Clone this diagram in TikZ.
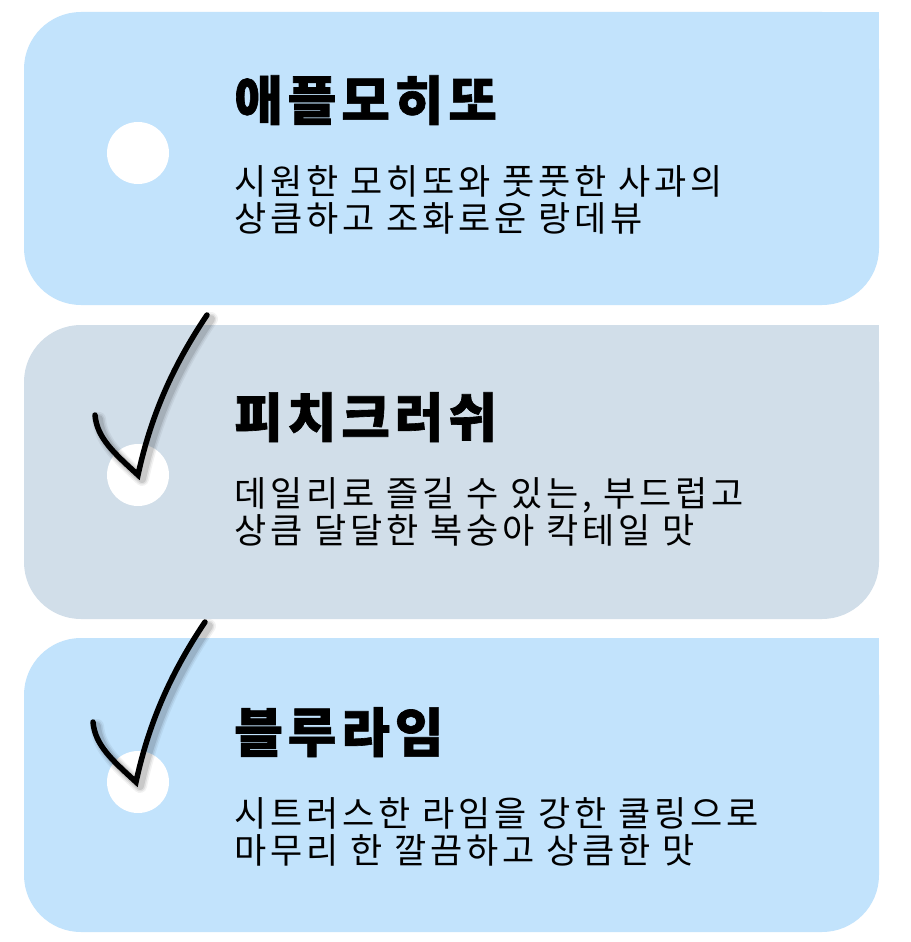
\documentclass[tikz,border=0pt]{standalone}
\usepackage{fontspec}
\setmainfont{Noto Sans CJK KR}
\definecolor{tagBlue}{HTML}{C2E3FC}
\definecolor{tagGrey}{HTML}{D1DEE9}
\def\tickmark(#1){\begin{scope}[shift={(#1)}]
  \foreach \w/\o in {14/0.05, 11/0.07, 8/0.10}
    \draw[line width=\w pt, black, opacity=\o, line cap=round, line join=round, shift={(4,4)}] (-43,-60) .. controls (-41,-37) and (-24,-22) .. (0,0) .. controls (12,-55) and (32,-105) .. (69,-160);
  \draw[line width=5.5pt, black, line cap=round, line join=miter] (-43,-60) .. controls (-41,-37) and (-24,-22) .. (0,0) .. controls (12,-55) and (32,-105) .. (69,-160);
\end{scope}}

\begin{document}
\begin{tikzpicture}[x=1pt, y=-1pt,
    headline/.style={inner sep=0pt, anchor=base west, font=\bfseries\addfontfeatures{LetterSpace=9, FakeBold=1.2}\fontsize{53}{60}\selectfont},
    blurb/.style={inner sep=0pt, anchor=base west, font=\addfontfeatures{LetterSpace=11}\fontsize{35}{37}\selectfont}]
			%%%%% START %%%%%
			\useasboundingbox[fill=white] (0,0) rectangle (910,942);

			\fill[tagBlue, rounded corners=57pt] (24,12) rectangle (879,305);
			\fill[tagBlue] (700,12) rectangle (879,150);
			\fill[white] (138,153) circle [radius=31pt];

			\fill[tagGrey, rounded corners=57pt] (24,325) rectangle (879,619);
			\fill[tagGrey] (700,325) rectangle (879,460);
			\fill[white] (138,475) circle [radius=31pt];

			\fill[tagBlue, rounded corners=57pt] (24,638) rectangle (879,932);
			\fill[tagBlue] (700,638) rectangle (879,780);
			\fill[white] (138,782) circle [radius=31pt];

			\node[headline] (apple) at (234,120) {애플모히또};
			\node[blurb] (apple1) at (234,194) {시원한 모히또와 풋풋한 사과의};
			\node[blurb] (apple2) at (234,231) {상큼하고 조화로운 랑데뷰};

			\node[headline] (peach) at (234,437) {피치크러쉬};
			\node[blurb] (peach1) at (234,506) {데일리로 즐길 수 있는, 부드럽고};
			\node[blurb] (peach2) at (234,543) {상큼 달달한 복숭아 칵테일 맛};

			\node[headline] (lime) at (234,752) {블루라임};
			\node[blurb] (lime1) at (234,826) {시트러스한 라임을 강한 쿨링으로};
			\node[blurb] (lime2) at (234,863) {마무리 한 깔끔하고 상큼한 맛};

			\tickmark(138,475)
			\tickmark(136,782)
			%%%%% END %%%%%
\end{tikzpicture}
\end{document}
